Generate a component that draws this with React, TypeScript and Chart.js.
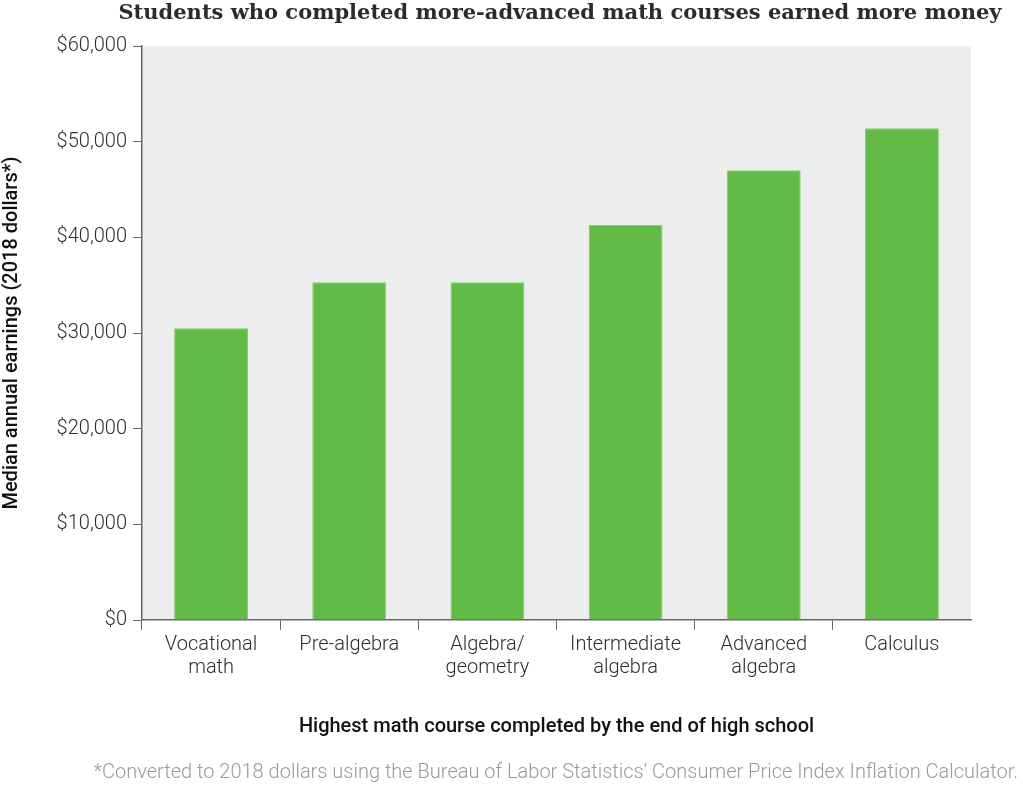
import { useEffect, useRef } from "react"
import { Chart, registerables } from "chart.js"

Chart.register(...registerables)

// 数据
const courses = [
  ["Vocational", "math"],
  "Pre-algebra",
  ["Algebra/", "geometry"],
  ["Intermediate", "algebra"],
  ["Advanced", "algebra"],
  "Calculus",
]
const earnings = [30500, 35300, 35300, 41300, 47000, 51400]
const yTicks = [0, 10000, 20000, 30000, 40000, 50000, 60000]

const titleText = "Students who completed more-advanced math courses earned more money"
const footnoteText =
  "*Converted to 2018 dollars using the Bureau of Labor Statistics\u2019 Consumer Price Index Inflation Calculator."

const decorPlugin = {
  id: "decor",
  beforeDraw(chart: Chart) {
    const { ctx, chartArea } = chart
    ctx.save()
    ctx.fillStyle = "#eceeed"
    ctx.fillRect(chartArea.left, chartArea.top, chartArea.right - chartArea.left, chartArea.bottom - chartArea.top)
    ctx.restore()
  },
  afterDraw(chart: Chart) {
    const { ctx } = chart
    ctx.save()
    // 标题
    ctx.fillStyle = "#2b2b2b"
    ctx.font = "bold 21px 'DejaVu Serif'"
    ctx.textAlign = "center"
    ctx.textBaseline = "middle"
    ctx.fillText(titleText, 560, 14)
    // 脚注
    ctx.fillStyle = "#9a9a9a"
    ctx.font = "300 20px Roboto"
    ctx.textAlign = "right"
    ctx.fillText(footnoteText, 1018, 773)
    ctx.restore()
  },
}

export default function App() {
  const chartRef = useRef<HTMLCanvasElement>(null)
  const chartInstance = useRef<Chart | null>(null)

  useEffect(() => {
    if (!chartRef.current) return
    if (chartInstance.current) chartInstance.current.destroy()

    const ctx = chartRef.current.getContext("2d")
    if (!ctx) return

    chartInstance.current = new Chart(ctx, {
      type: "bar",
      data: {
        labels: courses,
        datasets: [
          {
            data: earnings,
            backgroundColor: "#62bb47",
            borderColor: "#86cc71",
            borderWidth: 1,
            categoryPercentage: 1,
            barPercentage: 0.535,
          },
        ],
      },
      options: {
        responsive: true,
        maintainAspectRatio: false,
        animation: false,
        layout: { padding: { top: 46, right: 52, bottom: 52, left: 0 } },
        plugins: {
          legend: { display: false },
          tooltip: { enabled: false },
        },
        scales: {
          x: {
            grid: {
              offset: true,
              drawOnChartArea: false,
              drawTicks: true,
              tickLength: 10,
              tickColor: (c: any) => (c.type === "tick" ? "#666666" : "transparent"),
            },
            border: { display: true, color: "#666666", width: 1.5 },
            ticks: {
              color: "#2e2e2e",
              padding: 3,
              maxRotation: 0,
              autoSkip: false,
              font: { family: "Roboto", size: 20, weight: "300", lineHeight: 1.15 },
            },
            title: {
              display: true,
              text: "Highest math course completed by the end of high school",
              color: "#111111",
              font: { family: "Roboto", size: 20, weight: "500" },
              padding: { top: 0, bottom: 0 },
            },
            afterFit(scale: any) {
              scale.height = 119
            },
          },
          y: {
            min: 0,
            max: 60000,
            afterBuildTicks(scale: any) {
              scale.ticks = yTicks.map((v) => ({ value: v }))
            },
            grid: {
              drawOnChartArea: false,
              drawTicks: true,
              tickLength: 9,
              tickColor: "#666666",
            },
            border: { display: true, color: "#666666", width: 1.5 },
            ticks: {
              color: "#2e2e2e",
              padding: 6,
              font: { family: "Roboto", size: 20, weight: "300" },
              callback: (v: any) => "$" + Number(v).toLocaleString("en-US"),
            },
            title: {
              display: true,
              text: "Median annual earnings (2018 dollars*)",
              color: "#111111",
              font: { family: "Roboto", size: 20, weight: "500" },
              padding: { top: 0, bottom: 0 },
            },
            afterFit(scale: any) {
              scale.width = 142
            },
          },
        },
      },
      plugins: [decorPlugin],
    })

    return () => {
      if (chartInstance.current) {
        chartInstance.current.destroy()
        chartInstance.current = null
      }
    }
  }, [])

  return (
    <div style={{ position: "absolute", left: 0, top: 0, width: 1023, height: 791, background: "#ffffff" }}>
      <canvas ref={chartRef} />
    </div>
  )
}
